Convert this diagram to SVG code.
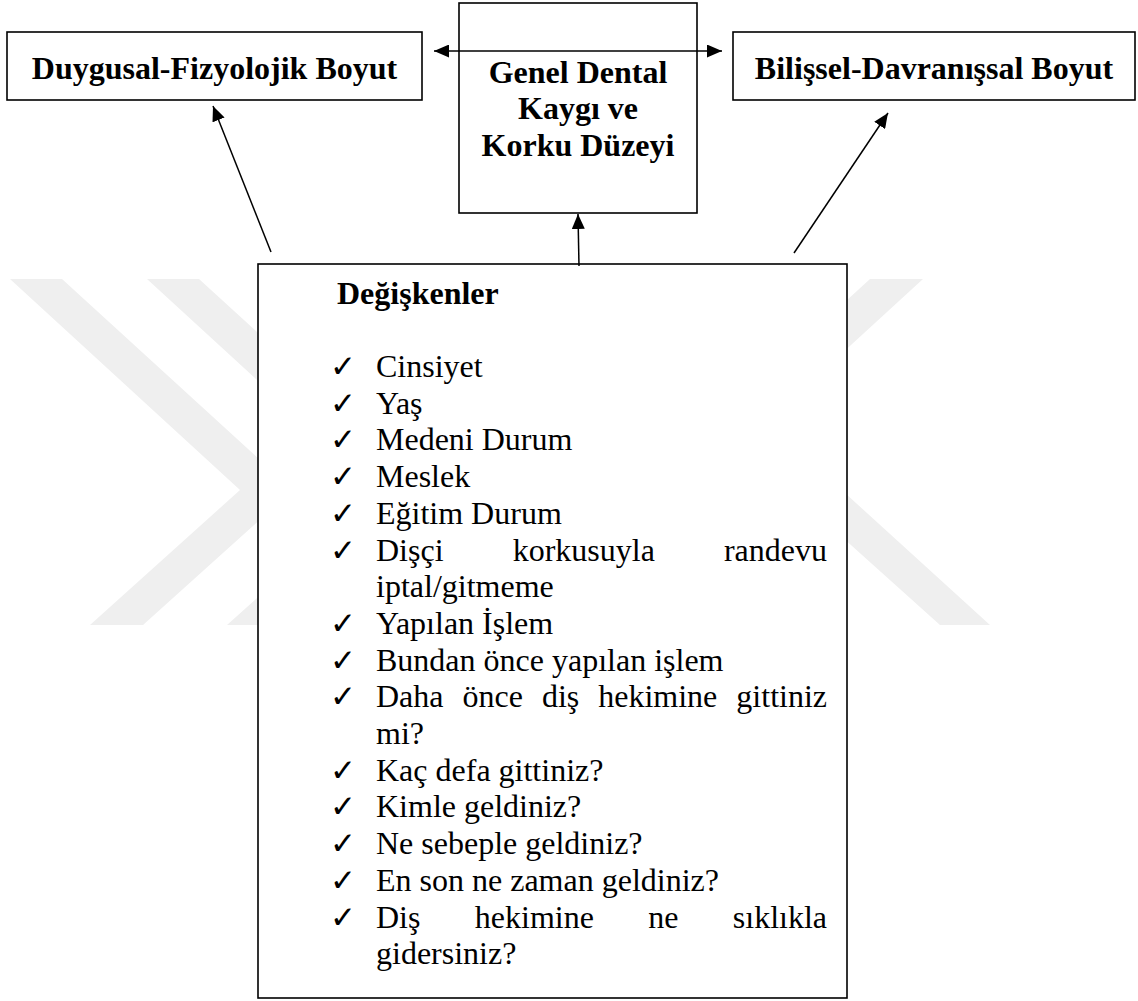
<svg xmlns="http://www.w3.org/2000/svg" width="1138" height="1001" viewBox="0 0 1138 1001">
<defs>
<style>
.box{fill:#ffffff;stroke:#000000;stroke-width:1.6}
.wm{fill:#efefef;stroke:none}
.b{font-family:'Liberation Serif','Times New Roman',Tinos,'DejaVu Serif',serif;font-weight:700;font-size:32px;fill:#000000}
.r{font-family:'Liberation Serif','Times New Roman',Tinos,'DejaVu Serif',serif;font-weight:400;font-size:32px;fill:#000000}
.ck{font-family:'DejaVu Sans',sans-serif;font-weight:700;font-size:31px;fill:#000000}
.con{stroke:#000000;stroke-width:1.5;fill:none}
</style>
<marker id="ah" markerUnits="userSpaceOnUse" markerWidth="16" markerHeight="13" refX="15" refY="6.5" orient="auto-start-reverse">
<path d="M0,0 L15,6.5 L0,13 Z" fill="#000000"/>
</marker>
</defs>
<rect x="0" y="0" width="1138" height="1001" fill="#ffffff"/>
<g id="watermark">
<polygon class="wm" points="10,279 62,279 293,490 143,625 90,625 240,490"/>
<polygon class="wm" points="147,279 199,279 430,490 280,625 227,625 377,490"/>
<polygon class="wm" points="923,279 870,279 714,422 940,625 990,625 767,422"/>
</g>
<g id="node-duygusal">
<rect class="box" x="7" y="32" width="415" height="68"/>
<text class="b" x="214.5" y="78.5" text-anchor="middle">Duygusal-Fizyolojik Boyut</text>
</g>
<g id="node-genel">
<rect class="box" x="459" y="3" width="238" height="210"/>
<text class="b" x="578" y="82.5" text-anchor="middle">Genel Dental</text>
<text class="b" x="578" y="119.2" text-anchor="middle">Kaygı ve</text>
<text class="b" x="578" y="155.9" text-anchor="middle">Korku Düzeyi</text>
</g>
<g id="node-bilissel">
<rect class="box" x="733" y="32" width="402" height="68"/>
<text class="b" x="934" y="79" text-anchor="middle">Bilişsel-Davranışsal Boyut</text>
</g>
<g id="node-degiskenler">
<rect class="box" x="258" y="264" width="589" height="734"/>
<text class="b" x="337" y="303.5">Değişkenler</text>
<g class="ck">
<text x="330" y="377">✓</text>
<text x="330" y="413.7">✓</text>
<text x="330" y="450.4">✓</text>
<text x="330" y="487.1">✓</text>
<text x="330" y="523.8">✓</text>
<text x="330" y="560.5">✓</text>
<text x="330" y="633.9">✓</text>
<text x="330" y="670.6">✓</text>
<text x="330" y="707.3">✓</text>
<text x="330" y="780.7">✓</text>
<text x="330" y="817.4">✓</text>
<text x="330" y="854.1">✓</text>
<text x="330" y="890.8">✓</text>
<text x="330" y="927.5">✓</text>
</g>
<text class="r" x="376" y="377">Cinsiyet</text>
<text class="r" x="376" y="413.7">Yaş</text>
<text class="r" x="376" y="450.4">Medeni Durum</text>
<text class="r" x="376" y="487.1">Meslek</text>
<text class="r" x="376" y="523.8">Eğitim Durum</text>
<text class="r" y="560.5"><tspan x="376">Dişçi</tspan><tspan x="512.7">korkusuyla</tspan><tspan x="827" text-anchor="end">randevu</tspan></text>
<text class="r" x="376" y="597.2">iptal/gitmeme</text>
<text class="r" x="376" y="633.9">Yapılan İşlem</text>
<text class="r" x="376" y="670.6">Bundan önce yapılan işlem</text>
<text class="r" y="707.3"><tspan x="376">Daha</tspan><tspan x="462.5">önce</tspan><tspan x="541.9">diş</tspan><tspan x="598.2">hekimine</tspan><tspan x="827" text-anchor="end">gittiniz</tspan></text>
<text class="r" x="376" y="744">mi?</text>
<text class="r" x="376" y="780.7">Kaç defa gittiniz?</text>
<text class="r" x="376" y="817.4">Kimle geldiniz?</text>
<text class="r" x="376" y="854.1">Ne sebeple geldiniz?</text>
<text class="r" x="376" y="890.8">En son ne zaman geldiniz?</text>
<text class="r" y="927.5"><tspan x="376">Diş</tspan><tspan x="474.8">hekimine</tspan><tspan x="648.3">ne</tspan><tspan x="827" text-anchor="end">sıklıkla</tspan></text>
<text class="r" x="376" y="964.2">gidersiniz?</text>
</g>
<g id="connectors">
<line class="con" x1="434" y1="51" x2="722" y2="51" marker-start="url(#ah)" marker-end="url(#ah)"/>
<line class="con" x1="271" y1="252" x2="213" y2="106" marker-end="url(#ah)"/>
<line class="con" x1="794" y1="253" x2="888" y2="113" marker-end="url(#ah)"/>
<line class="con" x1="579" y1="266" x2="578" y2="214" marker-end="url(#ah)"/>
</g>
</svg>
